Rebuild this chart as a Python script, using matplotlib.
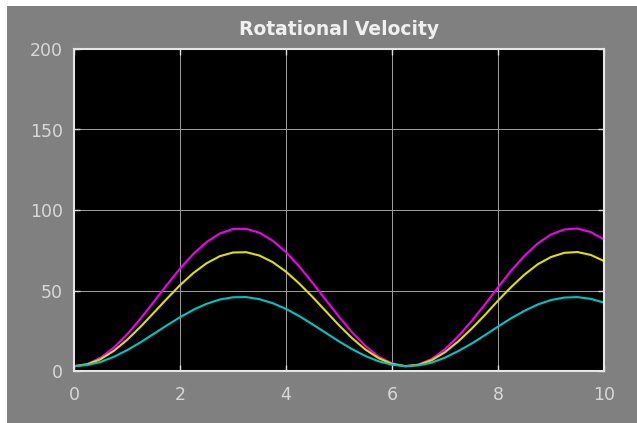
import matplotlib
matplotlib.use("Agg")
import matplotlib.pyplot as plt
from matplotlib.patches import Rectangle

# sample times (s)
t = [0.0, 0.25, 0.5, 0.75, 1.0, 1.25, 1.5, 1.75, 2.0, 2.25, 2.5, 2.75, 3.0, 3.25,
     3.5, 3.75, 4.0, 4.25, 4.5, 4.75, 5.0, 5.25, 5.5, 5.75, 6.0, 6.25, 6.5, 6.75,
     7.0, 7.25, 7.5, 7.75, 8.0, 8.25, 8.5, 8.75, 9.0, 9.25, 9.5, 9.75, 10.0]

vel_magenta = [3.0, 4.3, 8.2, 14.5, 22.7, 32.3, 42.8, 53.4, 63.6, 72.7, 80.1, 85.4,
               88.2, 88.3, 85.9, 80.9, 73.8, 64.9, 54.8, 44.2, 33.7, 23.9, 15.5, 8.9,
               4.7, 3.0, 4.0, 7.5, 13.5, 21.6, 31.0, 41.2, 52.0, 62.4, 71.6, 79.3,
               84.8, 87.9, 88.5, 86.3, 81.7]
vel_yellow = [3.0, 4.1, 7.3, 12.5, 19.3, 27.3, 36.0, 44.8, 53.3, 60.8, 66.9, 71.3,
              73.6, 73.8, 71.7, 67.6, 61.7, 54.3, 46.0, 37.2, 28.4, 20.3, 13.3, 7.9,
              4.4, 3.0, 3.8, 6.7, 11.7, 18.4, 26.2, 34.7, 43.7, 52.2, 59.9, 66.3,
              70.8, 73.4, 73.9, 72.1, 68.3]
vel_cyan = [3.0, 3.7, 5.6, 8.8, 12.9, 17.7, 23.0, 28.3, 33.4, 38.0, 41.7, 44.4,
            45.8, 45.9, 44.6, 42.1, 38.6, 34.1, 29.0, 23.7, 18.4, 13.5, 9.3, 6.0,
            3.9, 3.0, 3.5, 5.2, 8.3, 12.4, 17.0, 22.2, 27.6, 32.8, 37.4, 41.3,
            44.1, 45.6, 45.9, 44.8, 42.5]

xticks = [0, 2, 4, 6, 8, 10]
yticks = [0, 50, 100, 150, 200]

plt.rcParams['font.family'] = ['DejaVu Sans']

fig = plt.figure(figsize=(6.37, 4.23), dpi=100, facecolor='white')
# grey scope background, white strip on left/top
fig.patches.append(Rectangle((7 / 637, 0), 1, 1 - 6 / 423, transform=fig.transFigure,
                             facecolor='#808080', edgecolor='none', zorder=-10))

ax = fig.add_axes([74 / 637, 1 - 371 / 423, 530 / 637, 322 / 423])
ax.set_zorder(1)
ax.set_facecolor('black')

ax.plot(t, vel_magenta, color='#f000f0', lw=1.5)
ax.plot(t, vel_yellow, color='#e0e000', lw=1.5)
ax.plot(t, vel_cyan, color='#00c4c4', lw=1.5)

ax.set_xlim(0, 10)
ax.set_ylim(0, 200)
ax.set_xticks(xticks)
ax.set_yticks(yticks)
ax.grid(True, color='#a0a0a0', lw=0.7)
ax.tick_params(direction='in', colors='#e0e0e0', labelcolor='#d8d8d8',
               labelsize=12.5, length=4, width=1, top=True, right=True)
ax.tick_params(axis='x', pad=11)
ax.tick_params(axis='y', pad=8)
for s in ax.spines.values():
    s.set_color('#e6e6e6')
    s.set_linewidth(1.5)

ax.set_title('Rotational Velocity', color='#f0f0f0', fontsize=13.5,
             fontweight='bold', pad=10)

fig.savefig('out.png', dpi=100, facecolor=fig.get_facecolor())
